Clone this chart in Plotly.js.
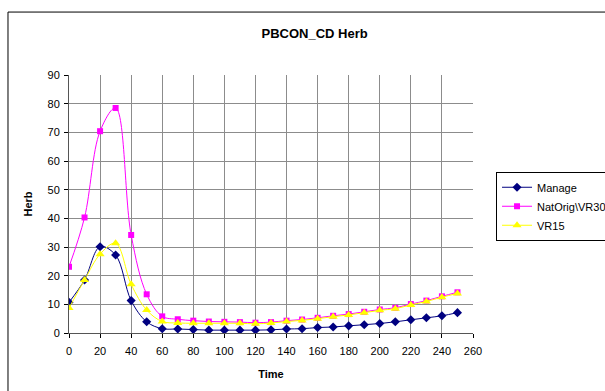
<!DOCTYPE html>
<html>
<head>
<meta charset="utf-8">
<script src="https://cdn.plot.ly/plotly-3.0.1.min.js"></script>
<style>html,body{margin:0;padding:0;background:#fff;overflow:hidden;}#chart{width:605px;height:391px;}</style>
</head>
<body>
<div id="chart"></div>
<script>
var time = [0,10,20,30,40,50,60,70,80,90,100,110,120,130,140,150,160,170,180,190,200,210,220,230,240,250];
var manage = [10.7,18.5,30.1,27.2,11.3,3.9,1.5,1.4,1.2,1.0,1.0,1.0,1.0,1.1,1.4,1.5,1.9,2.1,2.5,2.9,3.3,3.9,4.6,5.3,6.0,7.1];
var natOrig = [23.1,40.3,70.4,78.5,34.2,13.5,5.8,4.8,4.3,4.0,3.9,3.8,3.6,3.8,4.3,4.7,5.3,6.0,6.6,7.4,8.2,8.8,10.1,11.3,12.8,14.2];
var vr15 = [8.7,18.5,27.5,31.3,17.0,8.0,4.0,3.5,3.4,3.4,3.4,3.4,3.2,3.5,4.0,4.4,5.0,5.7,6.3,7.1,7.9,8.5,9.8,11.0,12.5,13.8];
var seriesNames = ['Manage', 'NatOrig\\VR30', 'VR15'];
var xTicks = [0,20,40,60,80,100,120,140,160,180,200,220,240,260];
var yTicks = [0,10,20,30,40,50,60,70,80,90];

var font = 'Arial, "Liberation Sans", sans-serif';
var traces = [
  {x: time, y: manage, name: seriesNames[0], type: 'scatter', mode: 'lines+markers',
   line: {color: '#000080', width: 1, shape: 'spline', smoothing: 1},
   marker: {symbol: 'diamond', size: 7, color: '#000080'}},
  {x: time, y: natOrig, name: seriesNames[1], type: 'scatter', mode: 'lines+markers',
   line: {color: '#FF00FF', width: 1, shape: 'spline', smoothing: 1},
   marker: {symbol: 'square', size: 6, color: '#FF00FF'}},
  {x: time, y: vr15, name: seriesNames[2], type: 'scatter', mode: 'lines+markers',
   line: {color: '#FFFF00', width: 1, shape: 'spline', smoothing: 1},
   marker: {symbol: 'triangle-up', size: 8, color: '#FFFF00'}}
];

var layout = {
  width: 605, height: 391,
  paper_bgcolor: '#ffffff', plot_bgcolor: '#ffffff',
  margin: {l: 69, r: 132, t: 75, b: 58, autoexpand: false},
  font: {family: font, size: 11, color: '#000'},
  title: {text: '<b>PBCON_CD Herb</b>', font: {family: font, size: 13, color: '#000'},
          x: 0.52, xref: 'container', xanchor: 'center', y: 0.915, yref: 'container', yanchor: 'middle'},
  showlegend: true,
  legend: {x: 1.057, xanchor: 'left', y: 0.625, yanchor: 'top', bordercolor: '#000', borderwidth: 1,
           bgcolor: '#fff', font: {family: font, size: 11, color: '#000'}, tracegroupgap: 0},
  xaxis: {range: [0, 260], tickvals: xTicks, ticktext: xTicks.map(String), showgrid: true, gridcolor: '#8c8c8c', gridwidth: 1,
          zeroline: false, showline: true, linecolor: '#555', linewidth: 1, ticks: 'outside', ticklen: 4, tickcolor: '#000',
          ticklabelstandoff: 4,
          tickfont: {family: font, size: 11, color: '#000'},
          title: {text: '<b>Time</b>', font: {family: font, size: 11, color: '#000'}, standoff: 14}},
  yaxis: {range: [0, 90], tickvals: yTicks, ticktext: yTicks.map(String), showgrid: true, gridcolor: '#8c8c8c', gridwidth: 1,
          zeroline: false, showline: true, linecolor: '#555', linewidth: 1, ticks: 'outside', ticklen: 4, tickcolor: '#000',
          ticklabelstandoff: 2,
          tickfont: {family: font, size: 11, color: '#000'},
          title: {text: '<b>Herb</b>', font: {family: font, size: 11, color: '#000'}, standoff: 12}},
  shapes: [
    {type: 'rect', xref: 'paper', yref: 'paper', x0: -0.151, x1: 1.4, y0: -0.3, y1: 1.244,
     line: {color: '#000', width: 1}, fillcolor: 'rgba(0,0,0,0)', layer: 'below'}
  ]
};

Plotly.newPlot('chart', traces, layout, {displayModeBar: false, staticPlot: true});
</script>
</body>
</html>
